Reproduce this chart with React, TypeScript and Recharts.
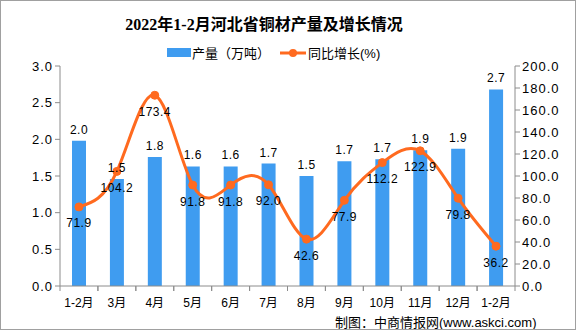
import React from "react";
import { ComposedChart, Bar, Line, XAxis, YAxis, LabelList } from "recharts";

const months = ["1-2月", "3月", "4月", "5月", "6月", "7月", "8月", "9月", "10月", "11月", "12月", "1-2月"];
const output = [1.98, 1.46, 1.76, 1.63, 1.63, 1.67, 1.5, 1.7, 1.73, 1.85, 1.87, 2.68];
const growth = [71.9, 104.2, 173.4, 91.8, 91.8, 92.0, 42.6, 77.9, 112.2, 122.9, 79.8, 36.2];
const leftTicks = [0, 0.5, 1, 1.5, 2, 2.5, 3];
const rightTicks = [0, 20, 40, 60, 80, 100, 120, 140, 160, 180, 200];

const W = 576;
const H = 330;
const MARGIN = { top: 66, right: 8, bottom: 8, left: 8 };
const LEFT_W = 52;
const RIGHT_W = 53;
const BAND = (W - MARGIN.left - MARGIN.right - LEFT_W - RIGHT_W) / months.length;

const BLUE = "#3f9cf0";
const ORANGE = "#ff6a1f";
const AXIS = "#8c8c8c";
const NUM_FONT = "'Liberation Sans', Arial, sans-serif";
const CJK_FONT = "'Liberation Sans', 'Noto Sans CJK SC', sans-serif";

const data = months.map((m, i) => ({ month: m, output: output[i], growth: growth[i] }));

function XTick({ x, y, payload }: any) {
  return (
    <g>
      <line x1={x - BAND / 2} x2={x - BAND / 2} y1={y} y2={y + 5} stroke={AXIS} />
      <line x1={x + BAND / 2} x2={x + BAND / 2} y1={y} y2={y + 5} stroke={AXIS} />
      <text x={x} y={y + 21} textAnchor="middle" fontSize={12} fill="#000" fontFamily={CJK_FONT}>
        {payload.value}
      </text>
    </g>
  );
}

export default function App() {
  return (
    <div
      style={{
        position: "absolute",
        left: 0,
        top: 0,
        width: W,
        height: H,
        background: "#fff",
        boxSizing: "border-box",
        border: "1px solid #a0a0a0",
        overflow: "hidden",
      }}
    >
      <div
        style={{
          position: "absolute",
          top: 10,
          left: 0,
          width: 526,
          textAlign: "center",
          fontSize: 16,
          fontWeight: "bold",
          fontFamily: "'Liberation Serif', 'Noto Sans CJK SC', serif",
          color: "#000",
        }}
      >
        2022年1-2月河北省铜材产量及增长情况
      </div>
      <div
        style={{
          position: "absolute",
          top: 42,
          left: 166,
          display: "flex",
          alignItems: "center",
          fontSize: 13,
          fontFamily: CJK_FONT,
          color: "#000",
        }}
      >
        <span style={{ display: "inline-block", width: 24, height: 9, background: BLUE }} />
        <span style={{ marginLeft: 1 }}>产量（万吨）</span>
        <svg width={26} height={12} style={{ marginLeft: 10 }}>
          <line x1={0} x2={26} y1={6} y2={6} stroke={ORANGE} strokeWidth={3} />
          <circle cx={13} cy={6} r={4} fill={ORANGE} />
        </svg>
        <span style={{ marginLeft: 2 }}>同比增长(%)</span>
      </div>
      <ComposedChart width={W} height={H} data={data} margin={MARGIN} style={{ position: "absolute", left: -1, top: -1 }}>
        <XAxis
          dataKey="month"
          xAxisId="x"
          axisLine={{ stroke: AXIS }}
          tickLine={false}
          tickSize={0}
          tickMargin={0}
          height={36}
          interval={0}
          tick={<XTick />}
        />
        <YAxis
          yAxisId="left"
          orientation="left"
          width={LEFT_W}
          domain={[0, 3]}
          ticks={leftTicks}
          tickFormatter={(v: number) => v.toFixed(1)}
          axisLine={{ stroke: AXIS }}
          tickLine={{ stroke: AXIS }}
          tickSize={5}
          tick={{ fontSize: 13, fill: "#000", fontFamily: NUM_FONT, letterSpacing: 1 }}
        />
        <YAxis
          yAxisId="right"
          orientation="right"
          width={RIGHT_W}
          domain={[0, 200]}
          ticks={rightTicks}
          tickFormatter={(v: number) => v.toFixed(1)}
          axisLine={{ stroke: AXIS }}
          tickLine={{ stroke: AXIS }}
          tickSize={5}
          tick={{ fontSize: 13, fill: "#000", fontFamily: NUM_FONT, letterSpacing: 1 }}
        />
        <Bar dataKey="output" xAxisId="x" yAxisId="left" fill={BLUE} barSize={14} isAnimationActive={false}>
          <LabelList
            dataKey="output"
            position="top"
            offset={7}
            formatter={(v: any) => Number(v).toFixed(1)}
            style={{ fontSize: 12, fill: "#000", fontFamily: NUM_FONT, letterSpacing: 0.5 }}
          />
        </Bar>
        <Line
          dataKey="growth"
          xAxisId="x"
          yAxisId="right"
          type="natural"
          stroke={ORANGE}
          strokeWidth={3}
          dot={{ r: 4, fill: ORANGE, stroke: ORANGE, strokeWidth: 1 }}
          activeDot={false}
          isAnimationActive={false}
        >
          <LabelList
            dataKey="growth"
            position="bottom"
            offset={12}
            formatter={(v: any) => Number(v).toFixed(1)}
            style={{ fontSize: 12, fill: "#000", fontFamily: NUM_FONT, letterSpacing: 0.5 }}
          />
        </Line>
      </ComposedChart>
      <div
        style={{
          position: "absolute",
          top: 311,
          left: 334,
          fontSize: 13,
          fontFamily: CJK_FONT,
          color: "#000",
          whiteSpace: "nowrap",
        }}
      >
        制图：中商情报网(www.askci.com)
      </div>
    </div>
  );
}
